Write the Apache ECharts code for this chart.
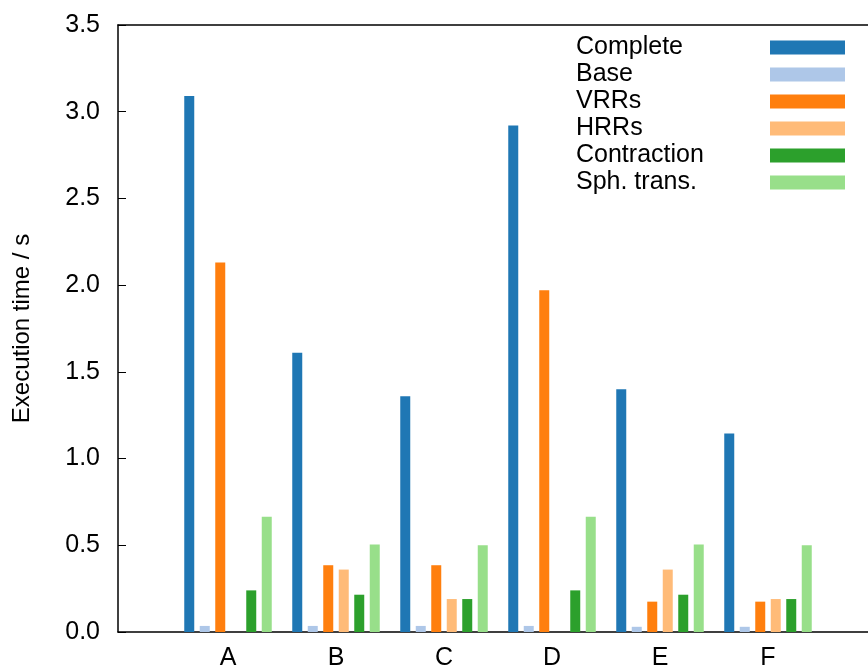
<!DOCTYPE html>
<html>
<head>
<meta charset="utf-8">
<script src="https://cdn.jsdelivr.net/npm/echarts@6/dist/echarts.min.js"></script>
<style>
  html, body { margin: 0; padding: 0; background: #fff; }
  #chart { width: 868px; height: 666px; }
</style>
</head>
<body>
<div id="chart"></div>
<script>
// 数据
const categories = ['A', 'B', 'C', 'D', 'E', 'F'];
const seriesNames = ['Complete', 'Base', 'VRRs', 'HRRs', 'Contraction', 'Sph. trans.'];
const seriesColors = ['#1f77b4', '#aec7e8', '#ff7f0e', '#ffbb78', '#2ca02c', '#98df8a'];

const complete    = [3.09, 1.61, 1.36, 2.92, 1.40, 1.145];
const base        = [0.035, 0.035, 0.035, 0.035, 0.03, 0.03];
const vrrs        = [2.13, 0.385, 0.385, 1.97, 0.175, 0.175];
const hrrs        = [0, 0.36, 0.19, 0, 0.36, 0.19];
const contraction = [0.24, 0.215, 0.19, 0.24, 0.215, 0.19];
const sphTrans    = [0.665, 0.505, 0.50, 0.665, 0.505, 0.50];

const seriesValues = [complete, base, vrrs, hrrs, contraction, sphTrans];

const yTicks = { min: 0, max: 3.5, interval: 0.5 };

// ============================================
// 图表
// ============================================
const FONT = 'Liberation Sans';
const FS = 25;
const chart = echarts.init(document.getElementById('chart'), null, { renderer: 'canvas' });

const series = seriesNames.map((name, i) => ({
    name: name,
    type: 'bar',
    xAxisIndex: 1,
    yAxisIndex: 1,
    barWidth: 10,
    barGap: '55%',
    itemStyle: { color: seriesColors[i] },
    data: seriesValues[i]
}));

const option = {
    animation: false,
    textStyle: { fontFamily: FONT },
    grid: [
        // 外框 + y 轴
        { left: 118, right: -2, top: 25, bottom: 34, show: false, outerBoundsMode: 'none', containLabel: false },
        // 柱子所在区域
        { left: 174, right: 46, top: 25, bottom: 34, show: false, outerBoundsMode: 'none', containLabel: false }
    ],
    legend: {
        orient: 'vertical',
        left: 571,
        top: 30,
        align: 'right',
        itemWidth: 75,
        itemHeight: 14,
        itemGap: 2,
        icon: 'rect',
        data: seriesNames,
        formatter: name => '{t|' + name + '}',
        textStyle: {
            fontSize: FS,
            color: '#000',
            fontFamily: FONT,
            rich: {
                t: { width: 189, align: 'left', fontSize: FS, lineHeight: 25, color: '#000', fontFamily: FONT }
            }
        },
        selectedMode: false
    },
    xAxis: [
        {
            gridIndex: 0,
            type: 'value',
            min: 0,
            max: 1,
            position: 'bottom',
            axisLine: { show: true, onZero: false, lineStyle: { color: '#000', width: 1.5 } },
            axisTick: { show: false },
            axisLabel: { show: false },
            splitLine: { show: false }
        },
        {
            gridIndex: 1,
            type: 'category',
            data: categories,
            axisLine: { show: false },
            axisTick: { show: false },
            axisLabel: { color: '#000', fontSize: FS, margin: 14, fontFamily: FONT },
            splitLine: { show: false }
        },
        {
            gridIndex: 0,
            type: 'value',
            min: 0,
            max: 1,
            position: 'top',
            axisLine: { show: true, onZero: false, lineStyle: { color: '#000', width: 1.5 } },
            axisTick: { show: false },
            axisLabel: { show: false },
            splitLine: { show: false }
        }
    ],
    yAxis: [
        {
            gridIndex: 0,
            type: 'value',
            min: yTicks.min,
            max: yTicks.max,
            interval: yTicks.interval,
            name: 'Execution time / s',
            nameLocation: 'middle',
            nameGap: 84,
            nameTextStyle: { color: '#000', fontSize: 24, fontFamily: FONT },
            axisLine: { show: true, lineStyle: { color: '#000', width: 1.5 } },
            axisTick: { show: true, inside: true, length: 8, lineStyle: { color: '#000' } },
            axisLabel: {
                color: '#000',
                fontSize: FS,
                margin: 18,
                fontFamily: FONT,
                formatter: v => v.toFixed(1)
            },
            splitLine: { show: false }
        },
        {
            gridIndex: 1,
            type: 'value',
            min: yTicks.min,
            max: yTicks.max,
            interval: yTicks.interval,
            show: false
        }
    ],
    series: series
};

chart.setOption(option);
</script>
</body>
</html>
